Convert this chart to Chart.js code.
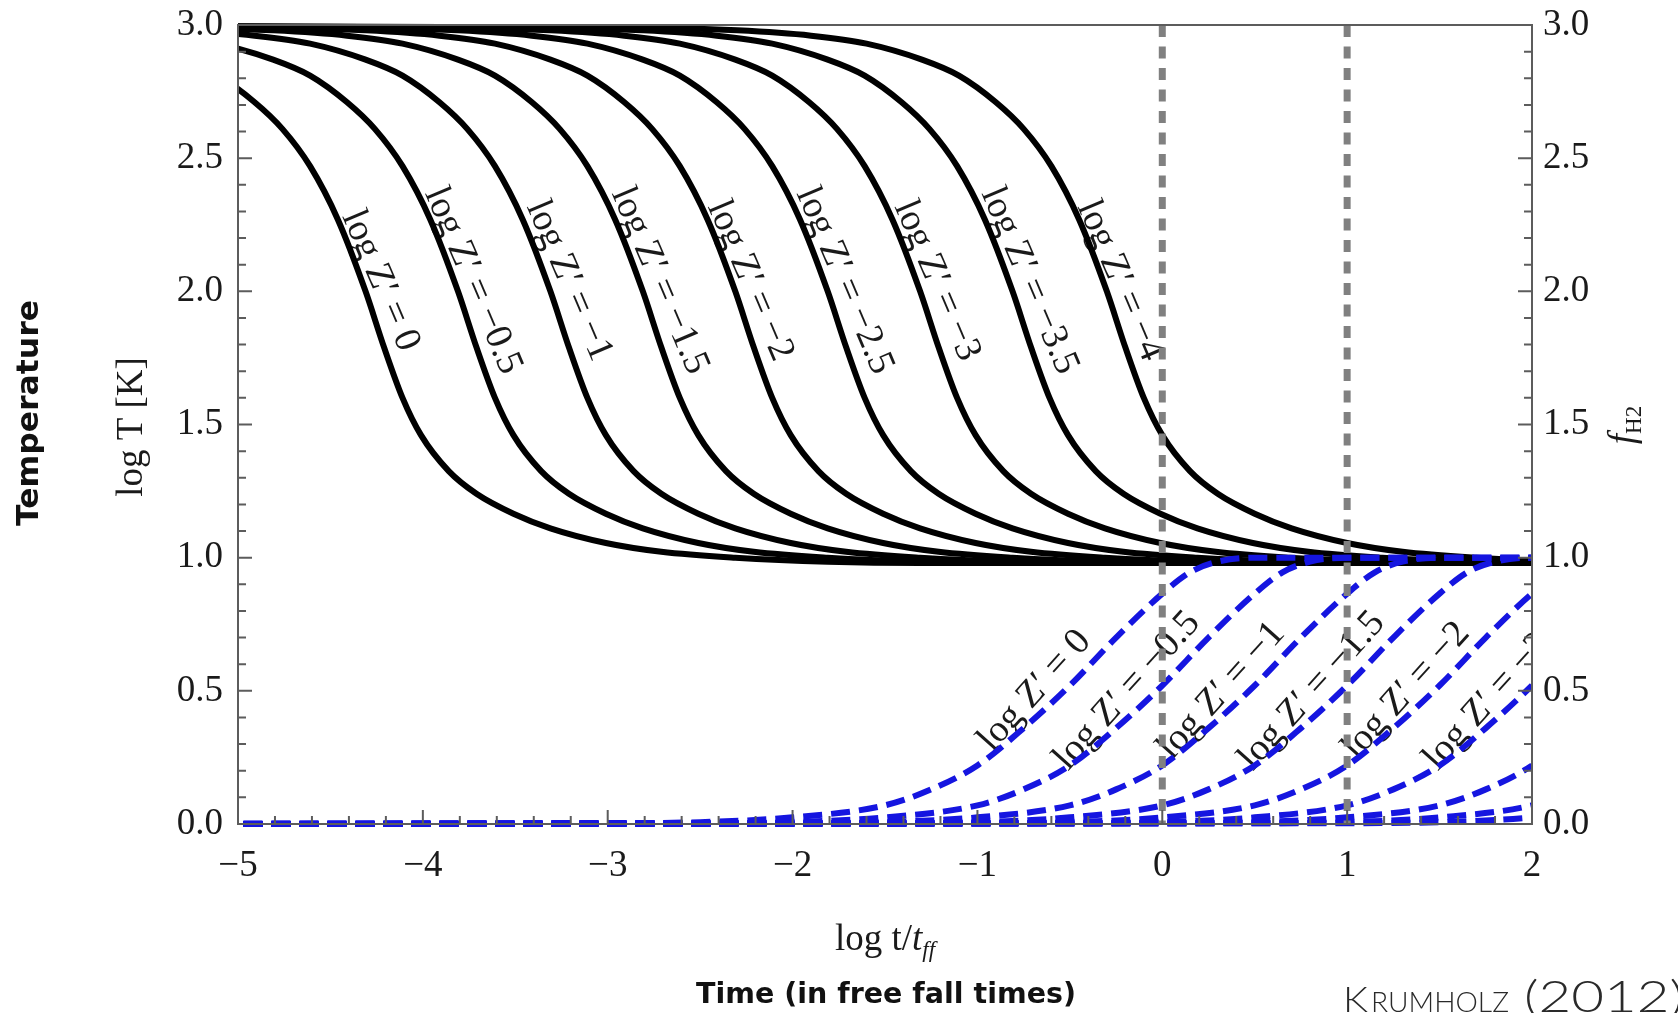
<!DOCTYPE html>
<html>
<head>
<meta charset="utf-8">
<script src="https://cdn.jsdelivr.net/npm/chart.js@4.4.1/dist/chart.umd.min.js"></script>
<style>
  html, body { margin: 0; padding: 0; background: #fff; }
  #wrap { width: 1678px; height: 1013px; }
</style>
</head>
<body>
<div id="wrap"><canvas id="chart" width="1678" height="1013"></canvas></div>
<script>
/** Temperature levels shared by every cooling curve (log T [K]) */
const tempLevels = [3.0, 2.99, 2.98, 2.96, 2.93, 2.87, 2.81, 2.71, 2.61, 2.47, 2.27, 2.0, 1.79, 1.60, 1.46, 1.325, 1.24, 1.165, 1.11, 1.055, 1.022, 1.0, 0.985, 0.98, 0.98];

/** log t/t_ff at which each curve reaches the level above */
const coolTimeZ0   = [-8, -6.81, -6.31, -5.91, -5.61, -5.31, -5.11, -4.91, -4.76, -4.61, -4.46, -4.31, -4.21, -4.11, -4.01, -3.86, -3.71, -3.51, -3.31, -3.01, -2.71, -2.31, -1.81, -1.31, 3.0];
const coolTimeZm05 = [-8, -6.31, -5.81, -5.41, -5.11, -4.81, -4.61, -4.41, -4.26, -4.11, -3.96, -3.81, -3.71, -3.61, -3.51, -3.36, -3.21, -3.01, -2.81, -2.51, -2.21, -1.81, -1.31, -0.81, 3.0];
const coolTimeZm1  = [-8, -5.81, -5.31, -4.91, -4.61, -4.31, -4.11, -3.91, -3.76, -3.61, -3.46, -3.31, -3.21, -3.11, -3.01, -2.86, -2.71, -2.51, -2.31, -2.01, -1.71, -1.31, -0.81, -0.31, 3.0];
const coolTimeZm15 = [-8, -5.31, -4.81, -4.41, -4.11, -3.81, -3.61, -3.41, -3.26, -3.11, -2.96, -2.81, -2.71, -2.61, -2.51, -2.36, -2.21, -2.01, -1.81, -1.51, -1.21, -0.81, -0.31, 0.19, 3.0];
const coolTimeZm2  = [-8, -4.81, -4.31, -3.91, -3.61, -3.31, -3.11, -2.91, -2.76, -2.61, -2.46, -2.31, -2.21, -2.11, -2.01, -1.86, -1.71, -1.51, -1.31, -1.01, -0.71, -0.31, 0.19, 0.69, 3.0];
const coolTimeZm25 = [-8, -4.31, -3.81, -3.41, -3.11, -2.81, -2.61, -2.41, -2.26, -2.11, -1.96, -1.81, -1.71, -1.61, -1.51, -1.36, -1.21, -1.01, -0.81, -0.51, -0.21, 0.19, 0.69, 1.19, 3.0];
const coolTimeZm3  = [-8, -3.81, -3.31, -2.91, -2.61, -2.31, -2.11, -1.91, -1.76, -1.61, -1.46, -1.31, -1.21, -1.11, -1.01, -0.86, -0.71, -0.51, -0.31, -0.01, 0.29, 0.69, 1.19, 1.69, 3.0];
const coolTimeZm35 = [-8, -3.31, -2.81, -2.41, -2.11, -1.81, -1.61, -1.41, -1.26, -1.11, -0.96, -0.81, -0.71, -0.61, -0.51, -0.36, -0.21, -0.01, 0.19, 0.49, 0.79, 1.19, 1.69, 2.19, 3.0];
const coolTimeZm4  = [-8, -2.80, -2.30, -1.90, -1.60, -1.30, -1.10, -0.90, -0.75, -0.60, -0.45, -0.30, -0.20, -0.10, 0.00, 0.15, 0.30, 0.50, 0.70, 1.00, 1.30, 1.70, 2.20, 2.70, 3.0];

/** H2 fraction levels shared by every dashed curve */
const h2Levels = [0, 0.003, 0.007, 0.025, 0.07, 0.13, 0.22, 0.36, 0.52, 0.70, 0.865, 0.945, 0.985, 1.0, 1.0];

const h2TimeZ0   = [-8, -3.0, -2.5, -2.0, -1.5, -1.25, -1.0, -0.75, -0.5, -0.25, 0.0, 0.15, 0.3, 0.5, 8];
const h2TimeZm05 = [-8, -2.5, -2.0, -1.5, -1.0, -0.75, -0.5, -0.25, 0.0, 0.25, 0.5, 0.65, 0.8, 1.0, 8];
const h2TimeZm1  = [-8, -2.0, -1.5, -1.0, -0.5, -0.25, 0.0, 0.25, 0.5, 0.75, 1.0, 1.15, 1.3, 1.5, 8];
const h2TimeZm15 = [-8, -1.5, -1.0, -0.5, 0.0, 0.25, 0.5, 0.75, 1.0, 1.25, 1.5, 1.65, 1.8, 2.0, 8];
const h2TimeZm2  = [-8, -1.0, -0.5, 0.0, 0.5, 0.75, 1.0, 1.25, 1.5, 1.75, 2.0, 2.15, 2.3, 2.5, 8];
const h2TimeZm25 = [-8, -0.5, 0.0, 0.5, 1.0, 1.25, 1.5, 1.75, 2.0, 2.25, 2.5, 2.65, 2.8, 3.0, 8];
const h2TimeZm3  = [-8, 0.0, 0.5, 1.0, 1.5, 1.75, 2.0, 2.25, 2.5, 2.75, 3.0, 3.15, 3.3, 3.5, 8];
const h2TimeZm35 = [-8, 0.5, 1.0, 1.5, 2.0, 2.25, 2.5, 2.75, 3.0, 3.25, 3.5, 3.65, 3.8, 4.0, 8];
const h2TimeZm4  = [-8, 1.0, 1.5, 2.0, 2.5, 2.75, 3.0, 3.25, 3.5, 3.75, 4.0, 4.15, 4.3, 4.5, 8];

const metallicityLabels = ['0', '−0.5', '−1', '−1.5', '−2', '−2.5', '−3', '−3.5', '−4'];
const markerTimes = [0, 1];
const xTicks = [-5, -4, -3, -2, -1, 0, 1, 2];

const coolSeries = [coolTimeZ0, coolTimeZm05, coolTimeZm1, coolTimeZm15, coolTimeZm2, coolTimeZm25, coolTimeZm3, coolTimeZm35, coolTimeZm4];
const h2Series = [h2TimeZ0, h2TimeZm05, h2TimeZm1, h2TimeZm15, h2TimeZm2, h2TimeZm25, h2TimeZm3, h2TimeZm35, h2TimeZm4];

const SERIF = '"Liberation Serif", "Times New Roman", serif';
const BLUE = '#1515e0';

/** label anchors, in data units */
const coolLabelSpots = { x: [-4.23, -3.73, -3.21, -2.72, -2.23, -1.72, -1.22, -0.72, -0.23], y: 2.04, angle: 67 };
const h2LabelSpots = { x: [-0.69, -0.19, 0.32, 0.81, 1.32, 1.81], y: 0.50, angle: -48 };

const minus = v => (v < 0 ? '−' + Math.abs(v) : String(v));

function drawRuns(ctx, runs, cx, baseline) {
  let total = 0;
  runs.forEach(r => { ctx.font = r.font; total += ctx.measureText(r.text).width; });
  let px = cx - total / 2;
  ctx.textAlign = 'left';
  ctx.textBaseline = 'alphabetic';
  runs.forEach(r => {
    ctx.font = r.font;
    ctx.fillText(r.text, px, baseline + (r.dy || 0));
    px += ctx.measureText(r.text).width;
  });
}

function fitText(ctx, text, cx, cy, width, angle) {
  ctx.save();
  ctx.translate(cx, cy);
  ctx.rotate(angle);
  const w = ctx.measureText(text).width;
  ctx.scale(width / w, 1);
  ctx.textAlign = 'center';
  ctx.textBaseline = 'middle';
  ctx.fillText(text, 0, 0);
  ctx.restore();
}

// draw text from a left edge, stretched to a given width
function fitLeft(ctx, text, left, baseline, width) {
  ctx.save();
  ctx.translate(left, baseline);
  ctx.scale(width / ctx.measureText(text).width, 1);
  ctx.textAlign = 'left';
  ctx.textBaseline = 'alphabetic';
  ctx.fillText(text, 0, 0);
  ctx.restore();
}

const datasets = [];
markerTimes.forEach(t => datasets.push({
  data: [{ x: t, y: 3 }, { x: t, y: 0 }],
  borderColor: '#808080', borderWidth: 7, borderDash: [12, 9.5], borderCapStyle: 'butt',
  pointRadius: 0, fill: false, clip: 6
}));
h2Series.forEach(times => datasets.push({
  data: times.map((t, i) => ({ x: t, y: h2Levels[i] })),
  yAxisID: 'y2',
  borderColor: BLUE, borderWidth: 6, borderDash: [19, 9],
  pointRadius: 0, fill: false, cubicInterpolationMode: 'monotone',
  clip: { left: 0, top: 0, right: 0, bottom: 4 }
}));
coolSeries.forEach(times => datasets.push({
  data: times.map((t, i) => ({ x: t, y: tempLevels[i] })),
  borderColor: '#000', borderWidth: 6,
  pointRadius: 0, fill: false, cubicInterpolationMode: 'monotone',
  clip: { left: 0, top: 3, right: 0, bottom: 0 }
}));

const decor = {
  id: 'decor',
  beforeDatasetsDraw(chart) {
    const { ctx, chartArea: a, scales: { x, y } } = chart;
    ctx.save();
    ctx.beginPath();
    ctx.rect(a.left, a.top, a.right - a.left, a.bottom - a.top);
    ctx.clip();
    ctx.fillStyle = '#1a1a1a';
    ctx.font = '38px ' + SERIF;
    ctx.textAlign = 'center';
    ctx.textBaseline = 'middle';
    coolLabelSpots.x.forEach((tx, i) => {
      ctx.save();
      ctx.translate(x.getPixelForValue(tx), y.getPixelForValue(coolLabelSpots.y));
      ctx.rotate(coolLabelSpots.angle * Math.PI / 180);
      ctx.fillText('log Z′ = ' + metallicityLabels[i], 0, 0);
      ctx.restore();
    });
    h2LabelSpots.x.forEach((tx, i) => {
      ctx.save();
      ctx.translate(x.getPixelForValue(tx), y.getPixelForValue(h2LabelSpots.y));
      ctx.rotate(h2LabelSpots.angle * Math.PI / 180);
      ctx.fillText('log Z′ = ' + metallicityLabels[i], 0, 0);
      ctx.restore();
    });
    ctx.restore();
  },
  afterDatasetsDraw(chart) {
    const { ctx, chartArea: a, scales: { x, y } } = chart;
    ctx.save();
    ctx.strokeStyle = '#5c5c5c';
    ctx.lineWidth = 2;
    ctx.strokeRect(a.left, a.top, a.right - a.left, a.bottom - a.top);
    ctx.beginPath();
    for (let i = 0; i <= 30; i++) {
      const py = y.getPixelForValue(i / 10);
      const len = i % 5 === 0 ? 14 : 8;
      ctx.moveTo(a.left, py); ctx.lineTo(a.left + len, py);
      ctx.moveTo(a.right, py); ctx.lineTo(a.right - len, py);
    }
    for (let i = -25; i <= 10; i++) {
      const px = x.getPixelForValue(i / 5);
      const len = i % 5 === 0 ? 14 : 8;
      ctx.moveTo(px, a.bottom); ctx.lineTo(px, a.bottom - len);
    }
    ctx.stroke();
    ctx.restore();
  },
  afterDraw(chart) {
    const { ctx } = chart;
    ctx.save();
    ctx.fillStyle = '#1a1a1a';

    // left inner title
    ctx.save();
    ctx.translate(130, 427);
    ctx.rotate(-Math.PI / 2);
    drawRuns(ctx, [{ text: 'log T [K]', font: '37px ' + SERIF }], 0, 12);
    ctx.restore();

    // right title f_H2
    ctx.save();
    ctx.translate(1624, 425);
    ctx.rotate(-Math.PI / 2);
    drawRuns(ctx, [
      { text: 'f', font: 'italic 37px ' + SERIF },
      { text: 'H2', font: '23px ' + SERIF, dy: 7 }
    ], 0, 10);
    ctx.restore();

    // bottom inner title
    drawRuns(ctx, [
      { text: 'log t/', font: '37px ' + SERIF },
      { text: 't', font: 'italic 37px ' + SERIF },
      { text: 'ff', font: 'italic 23px ' + SERIF, dy: 7 }
    ], 885, 950);

    // outer bold titles
    ctx.fillStyle = '#111';
    ctx.font = 'bold 31px "DejaVu Sans", sans-serif';
    fitText(ctx, 'Temperature', 30, 413, 226, -Math.PI / 2);
    ctx.font = 'bold 29px "DejaVu Sans", sans-serif';
    fitText(ctx, 'Time (in free fall times)', 886, 995, 380, 0);

    // citation in small caps, running off the right edge
    ctx.fillStyle = '#2a2a2a';
    ctx.font = '300 36px Lato, sans-serif';
    fitLeft(ctx, 'K', 1343, 1012, 25);
    ctx.font = '300 28px Lato, sans-serif';
    fitLeft(ctx, 'RUMHOLZ', 1371, 1012, 138);
    ctx.font = '300 44px Lato, sans-serif';
    fitLeft(ctx, '(2012)', 1524, 1012, 160);
    ctx.restore();
  }
};

const tickFont = { family: SERIF, size: 37, lineHeight: 1 };

new Chart(document.getElementById('chart'), {
  type: 'line',
  data: { datasets },
  options: {
    responsive: false,
    animation: false,
    events: [],
    layout: { padding: { top: 25, left: 0, right: 0, bottom: 0 } },
    plugins: { legend: { display: false }, tooltip: { enabled: false } },
    scales: {
      x: {
        type: 'linear', min: -5, max: 2,
        afterBuildTicks: s => { s.ticks = xTicks.map(v => ({ value: v })); },
        ticks: { font: tickFont, color: '#1a1a1a', padding: 24, maxRotation: 0, autoSkip: false, callback: v => minus(v) },
        grid: { display: false, drawTicks: false },
        border: { display: false },
        afterFit: s => { s.height = 189; s.paddingLeft = 0; s.paddingRight = 0; }
      },
      y: {
        type: 'linear', position: 'left', min: 0, max: 3,
        ticks: { stepSize: 0.5, font: tickFont, color: '#1a1a1a', padding: 15, callback: v => v.toFixed(1) },
        grid: { display: false, drawTicks: false },
        border: { display: false },
        afterFit: s => { s.width = 238; s.paddingTop = 0; s.paddingBottom = 0; }
      },
      y2: {
        type: 'linear', position: 'right', min: 0, max: 3,
        ticks: { stepSize: 0.5, font: tickFont, color: '#1a1a1a', padding: 11, callback: v => v.toFixed(1) },
        grid: { display: false, drawTicks: false },
        border: { display: false },
        afterFit: s => { s.width = 146; s.paddingTop = 0; s.paddingBottom = 0; }
      }
    }
  },
  plugins: [decor]
});
</script>
</body>
</html>
